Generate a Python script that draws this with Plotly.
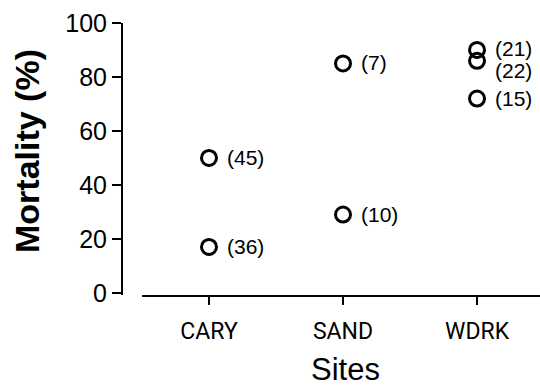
import plotly.graph_objects as go

# Data
sites = ["CARY", "CARY", "SAND", "SAND", "WDRK", "WDRK", "WDRK"]
mortality = [50, 17, 85, 29, 90, 86, 72]
sample_sizes = [45, 36, 7, 10, 21, 22, 15]
site_order = ["CARY", "SAND", "WDRK"]
y_ticks = [0, 20, 40, 60, 80, 100]

# label vertical nudges (style only)
label_yshift = [0, 0, 1, 0, 1, -10, 0]

W, H = 540, 390
ml, mr, mt, mb = 122, 0, 23, 95
pw = W - ml - mr
ph = H - mt - mb

fig = go.Figure()
fig.add_trace(go.Scatter(
    x=sites, y=mortality, mode="markers",
    marker=dict(symbol="circle-open", size=15, color="black",
                line=dict(width=3, color="black")),
    showlegend=False, cliponaxis=False,
))

for s, v, n, dy in zip(sites, mortality, sample_sizes, label_yshift):
    fig.add_annotation(x=s, y=v, text=f"({n})", showarrow=False,
                       xanchor="left", yanchor="middle", xshift=16, yshift=dy,
                       font=dict(family="Liberation Sans, Arial", size=21, color="black"))

# axis titles placed as annotations for precise positioning
fig.add_annotation(xref="paper", yref="paper",
                   x=(27 - ml) / pw, y=(H - mb - 151) / ph,
                   text="<b>Mortality (%)</b>", textangle=-90, showarrow=False,
                   xanchor="center", yanchor="middle",
                   font=dict(family="Liberation Sans, Arial", size=34, color="black"))
fig.add_annotation(xref="paper", yref="paper",
                   x=(345 - ml) / pw, y=(H - mb - 369) / ph,
                   text="Sites", showarrow=False,
                   xanchor="center", yanchor="middle",
                   font=dict(family="Liberation Sans, Arial", size=31, color="black"))

fig.update_layout(
    width=W, height=H,
    margin=dict(l=ml, r=mr, t=mt, b=mb),
    plot_bgcolor="white", paper_bgcolor="white",
    xaxis=dict(
        type="category", categoryorder="array", categoryarray=site_order,
        domain=[20 / pw, 1], range=[-0.5, 2.47],
        showline=True, linecolor="black", linewidth=2,
        ticks="outside", ticklen=8, tickwidth=2, tickcolor="black",
        showgrid=False, zeroline=False, ticklabelstandoff=6,
        tickfont=dict(family="Roboto", size=23, color="black"),
    ),
    yaxis=dict(
        range=[-0.8, 100], anchor="free", position=0,
        tickvals=y_ticks,
        showline=True, linecolor="black", linewidth=2,
        ticks="outside", ticklen=9, tickwidth=2, tickcolor="black",
        showgrid=False, zeroline=False,
        tickfont=dict(family="Liberation Sans, Arial", size=25, color="black"),
    ),
)

fig.write_html("out.html")
